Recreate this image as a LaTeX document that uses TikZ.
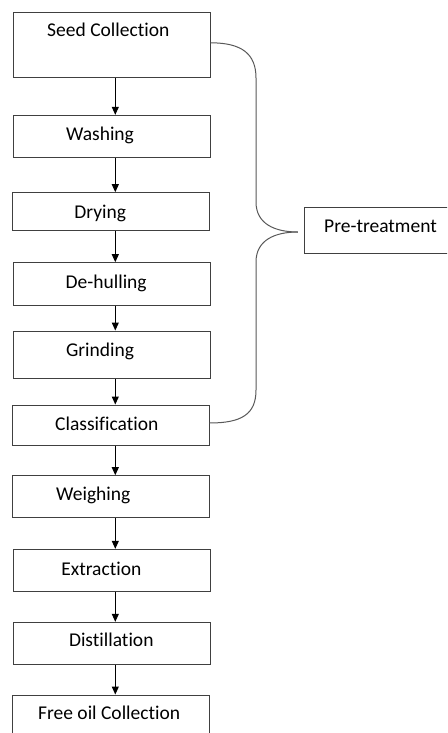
\documentclass[tikz,border=0pt]{standalone}
\usepackage{fontspec}
\setmainfont[Ligatures=NoCommon]{Carlito}
\usetikzlibrary{arrows.meta}
\definecolor{boxline}{HTML}{404040}
\definecolor{braceline}{HTML}{595959}
\tikzset{
  box/.style={draw=boxline, line width=1pt, rectangle, inner sep=0pt, minimum width=196.3pt},
  lbl/.style={anchor=base, inner sep=0pt, font=\fontsize{19.5}{22}\selectfont, text=black},
  arr/.style={draw=black, line width=1pt, -{Triangle[length=8pt,width=7pt]}},
  bracel/.style={draw=braceline, line width=1pt}
}
\begin{document}
\begin{tikzpicture}[x=1pt,y=-1pt]
\clip (0,0) rectangle (447,733);
\fill[white] (0,0) rectangle (447,733);
% boxes
\node[box, minimum height=65pt] (seed) at (111.85,44.8) {};
\node[box, minimum height=42pt] (wash) at (111.85,136.3) {};
\node[box, minimum height=37.6pt] (dry) at (110.85,211.5) {};
\node[box, minimum height=42.3pt] (dehull) at (111.85,283.85) {};
\node[box, minimum height=47.3pt] (grind) at (111.85,354.65) {};
\node[box, minimum height=40pt] (class) at (110.85,425) {};
\node[box, minimum height=42pt] (weigh) at (110.85,496.7) {};
\node[box, minimum height=42pt] (extr) at (111.85,570.3) {};
\node[box, minimum height=42pt] (dist) at (111.85,643.3) {};
\node[box, minimum height=60pt] (free) at (110.85,725) {};
\node[box, minimum width=160pt, minimum height=45.6pt] (pre) at (384.3,230.5) {};
% labels
\node[lbl] (tseed) at (108.3,36.7) {Seed Collection};
\node[lbl] (twash) at (100,140.7) {Washing};
\node[lbl] (tdry) at (100.3,218.3) {Drying};
\node[lbl] (tdehull) at (106.2,288.3) {De-hulling};
\node[lbl] (tgrind) at (100,356) {Grinding};
\node[lbl] (tclass) at (106.8,430) {Classification};
\node[lbl] (tweigh) at (93.3,500.7) {Weighing};
\node[lbl] (textr) at (101.3,575) {Extraction};
\node[lbl] (tdist) at (111.3,646.7) {Distillation};
\node[lbl] (tfree) at (109.2,719.3) {Free oil Collection};
\node[lbl] (tpre) at (380.5,232.3) {Pre-treatment};
% arrows
\coordinate (ax) at (115.3,0);
\draw[arr] (seed.south -| ax) -- (wash.north -| ax);
\draw[arr] (wash.south -| ax) -- (dry.north -| ax);
\draw[arr] (dry.south -| ax) -- (dehull.north -| ax);
\draw[arr] (dehull.south -| ax) -- (grind.north -| ax);
\draw[arr] (grind.south -| ax) -- (class.north -| ax);
\draw[arr] (class.south -| ax) -- (weigh.north -| ax);
\draw[arr] (weigh.south -| ax) -- (extr.north -| ax);
\draw[arr] (extr.south -| ax) -- (dist.north -| ax);
\draw[arr] (dist.south -| ax) -- (free.north -| ax);
% brace
\coordinate (tip) at ([xshift=-6pt,yshift=-1.5pt]pre.west);
\draw[bracel] ([yshift=2pt]seed.east) .. controls (242,42.8) and (256,54) .. (256,78)
  -- (256,202) .. controls (256,224) and (275,232) .. (tip);
\draw[bracel] (tip) .. controls (275,232) and (256,240) .. (256,262)
  -- (256,390) .. controls (256,414) and (242,423) .. ([yshift=2pt]class.east);
\end{tikzpicture}
\end{document}
